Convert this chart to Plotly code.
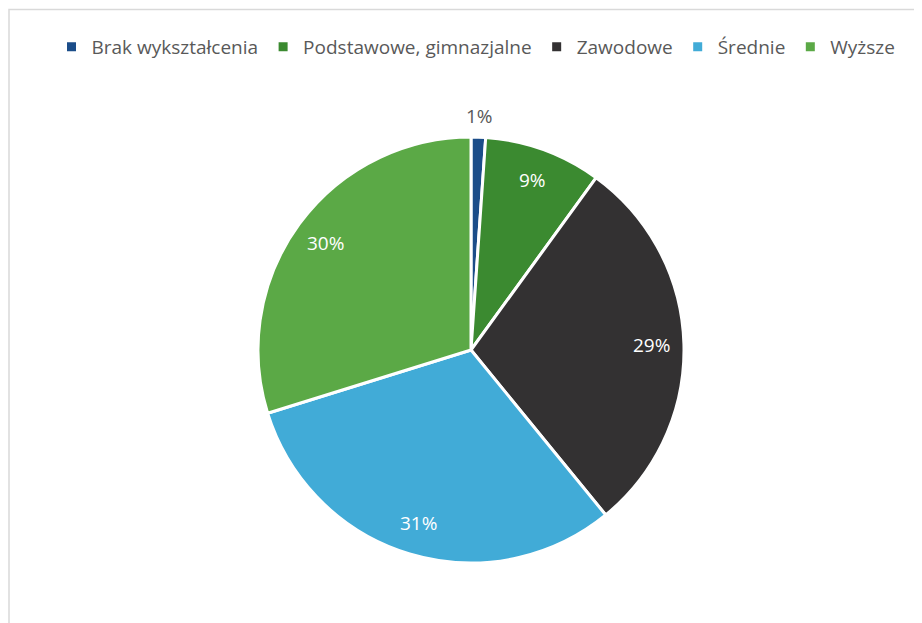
import math
import plotly.graph_objects as go

# --- data ---
labels = ["Brak wykształcenia", "Podstawowe, gimnazjalne", "Zawodowe", "Średnie", "Wyższe"]
values = [1.1, 8.9, 29.1, 31.1, 29.8]
colors = ["#1B4D89", "#3B8A30", "#333132", "#41ABD7", "#5BA946"]
label_col = ["#595959", "white", "white", "white", "white"]
label_rad = [1.1, 0.85, 0.85, 0.85, 0.85]   # fraction of radius where the label sits

W, H = 922, 623
OFF = 8  # page body margin
cx, cy, r = 471 - OFF, 350 - OFF, 213
FONT = "Open Sans, sans-serif"

fig = go.Figure()
fig.add_trace(go.Pie(
    labels=labels, values=values,
    sort=False, direction="clockwise", rotation=0,
    marker=dict(colors=colors, line=dict(color="white", width=3)),
    textinfo="none",
    domain=dict(x=[(cx - r) / W, (cx + r) / W], y=[(H - cy - r) / H, (H - cy + r) / H]),
    hoverinfo="label+percent",
    automargin=False,
))

# data labels at the middle angle of each slice
total = sum(values)
annotations = []
cum = 0
for v, c, f in zip(values, label_col, label_rad):
    mid = (cum + v / 2) / total * 2 * math.pi
    cum += v
    px = cx + f * r * math.sin(mid)
    py = cy - f * r * math.cos(mid)
    annotations.append(dict(
        x=px / W, y=1 - py / H, xref="paper", yref="paper", showarrow=False,
        xanchor="center", yanchor="middle",
        text=f"{round(v / total * 100)}%", font=dict(family=FONT, size=19, color=c),
    ))

fig.update_layout(
    width=W, height=H,
    margin=dict(l=0, r=0, t=0, b=0),
    paper_bgcolor="white",
    font=dict(family=FONT, color="#595959", size=19),
    showlegend=True,
    legend=dict(orientation="h", x=(476 - OFF) / W, xanchor="center", y=1 - (47 - OFF) / H, yanchor="middle",
                font=dict(family=FONT, size=19, color="#595959"), itemwidth=30, traceorder="normal"),
    annotations=annotations,
    shapes=[dict(type="rect", xref="paper", yref="paper",
                 x0=1 / W, x1=1.02, y0=-0.02, y1=1 - (9.5 - OFF) / H,
                 line=dict(color="#D9D9D9", width=1.5))],
)

fig.write_html("out.html")
